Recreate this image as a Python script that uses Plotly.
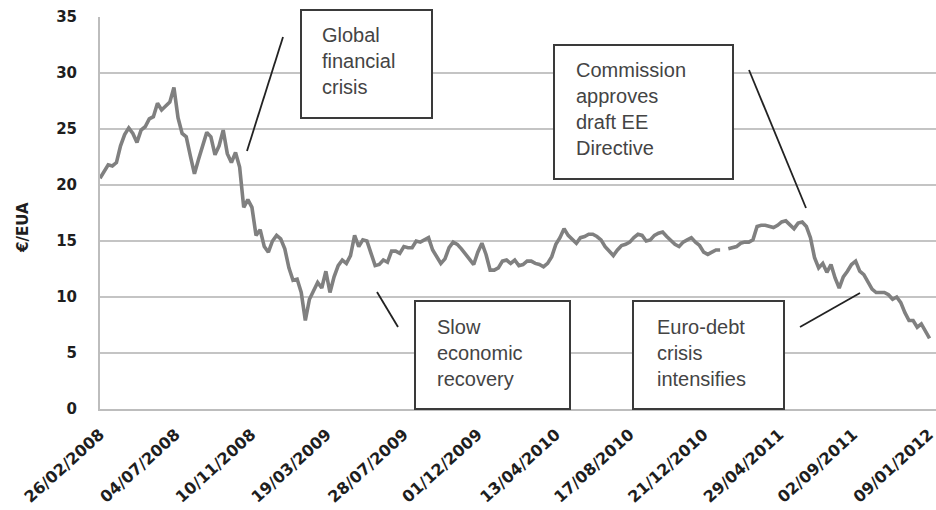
import pandas as pd
import plotly.graph_objects as go

# ---- data (weekly readings of the EUA price, €/EUA) ----
start_date = "2008-02-26"
price = [
    20.6, 21.2, 21.8, 21.7, 22.0, 23.5, 24.5, 25.1, 24.6, 23.8,
    24.9, 25.2, 25.9, 26.1, 27.3, 26.7, 27.1, 27.4, 28.7, 26.0,
    24.6, 24.3, 22.6, 21.0, 22.3, 23.5, 24.7, 24.3, 22.7, 23.5,
    24.9, 22.8, 22.0, 22.9, 21.6, 18.0, 18.7, 18.0, 15.5, 16.0,
    14.5, 14.0, 15.0, 15.5, 15.2, 14.3, 12.6, 11.5, 11.6, 10.4,
    7.9, 9.8, 10.5, 11.3, 10.8, 12.3, 10.4, 11.8, 12.8, 13.3,
    13.0, 13.7, 15.5, 14.5, 15.1, 15.0, 13.9, 12.8, 12.9, 13.3,
    13.1, 14.1, 14.1, 13.9, 14.5, 14.4, 14.4, 15.0, 14.9, 15.1,
    15.3, 14.2, 13.6, 13.0, 13.4, 14.4, 14.9, 14.7, 14.3, 13.8,
    13.3, 12.9, 14.0, 14.8, 13.8, 12.4, 12.4, 12.6, 13.2, 13.3,
    13.0, 13.3, 12.8, 12.9, 13.2, 13.2, 13.0, 12.9, 12.7, 13.0,
    13.6, 14.7, 15.3, 16.1, 15.5, 15.2, 14.8, 15.3, 15.4, 15.6,
    15.6, 15.4, 15.1, 14.5, 14.1, 13.7, 14.2, 14.6, 14.7, 14.9,
    15.3, 15.6, 15.5, 15.0, 15.1, 15.5, 15.7, 15.8, 15.4, 15.0,
    14.7, 14.5, 14.9, 15.1, 15.3, 14.9, 14.6, 14.0, 13.8, 14.0,
    14.2, 14.2, None, 14.3, 14.4, 14.5, 14.8, 14.9, 14.9, 15.1,
    16.3, 16.4, 16.4, 16.3, 16.2, 16.4, 16.7, 16.8, 16.4, 16.1,
    16.6, 16.7, 16.3, 15.3, 13.5, 12.6, 13.0, 12.2, 12.9, 11.7,
    10.8, 11.8, 12.3, 12.9, 13.2, 12.3, 12.0, 11.4, 10.7, 10.4,
    10.4, 10.4, 10.2, 9.8, 10.0, 9.5, 8.6, 7.9, 7.9, 7.3,
    7.6, 6.9, 6.3,
]
dates = pd.date_range(start_date, periods=len(price), freq="7D")

tick_dates = ["2008-02-26", "2008-07-04", "2008-11-10", "2009-03-19",
              "2009-07-28", "2009-12-01", "2010-04-13", "2010-08-17",
              "2010-12-21", "2011-04-29", "2011-09-02", "2012-01-09"]
tick_labels = ["26/02/2008", "04/07/2008", "10/11/2008", "19/03/2009",
               "28/07/2009", "01/12/2009", "13/04/2010", "17/08/2010",
               "21/12/2010", "29/04/2011", "02/09/2011", "09/01/2012"]
y_ticks = [0, 5, 10, 15, 20, 25, 30, 35]

events = [
    "Global<br>financial<br>crisis",
    "Commission<br>approves<br>draft EE<br>Directive",
    "Slow<br>economic<br>recovery",
    "Euro-debt<br>crisis<br>intensifies",
]

# ---- layout geometry helpers (pixel -> paper) ----
W, H = 936, 510
L, R, T, B = 100, 0, 17, 101
PW, PH = W - L - R, H - T - B


def px(xp):
    return (xp - L) / PW


def py(yp):
    return (H - B - yp) / PH


fig = go.Figure()
fig.add_trace(go.Scatter(
    x=dates, y=price, mode="lines",
    line=dict(color="#808080", width=3.6),
    connectgaps=False, showlegend=False, hoverinfo="skip",
))

fig.update_layout(
    width=W, height=H,
    margin=dict(l=L, r=R, t=T, b=B, pad=0),
    paper_bgcolor="white", plot_bgcolor="white",
    xaxis=dict(
        type="date", range=[start_date, "2012-01-21"],
        tickmode="array", tickvals=tick_dates, ticktext=tick_labels,
        tickangle=-42, tickfont=dict(family="DejaVu Sans", size=16, color="#1e1e1e", weight="bold"),
        showgrid=False, showline=True, linecolor="#bdbdbd", linewidth=2,
        ticks="", ticklabelstandoff=8, ticklabeloverflow="allow",
        automargin=False, zeroline=False,
    ),
    yaxis=dict(
        range=[0, 35], tickmode="array", tickvals=y_ticks,
        tickfont=dict(family="DejaVu Sans", size=15, color="#1e1e1e", weight="bold"),
        showgrid=True, gridcolor="#c4c4c4", gridwidth=1.6,
        showline=True, linecolor="#bdbdbd", linewidth=2,
        ticks="", ticklabelstandoff=18, ticklabeloverflow="allow",
        automargin=False, zeroline=False,
    ),
)

# y-axis title
fig.add_annotation(
    text="€/EUA", xref="paper", yref="paper", x=px(23), y=py(228),
    textangle=-90, showarrow=False, xanchor="center", yanchor="middle",
    font=dict(family="DejaVu Sans", size=15, color="#1e1e1e", weight="bold"),
)

# event boxes: (left, top, right, bottom) in pixels, text position
boxes = [
    ((301, 10, 432, 118), (320, 22)),
    ((554, 45, 733, 179), (574, 57)),
    ((415, 301, 570, 409), (435, 314)),
    ((633, 301, 784, 409), (655, 314)),
]
for (x0, y0, x1, y1), _ in boxes:
    fig.add_shape(type="rect", xref="paper", yref="paper",
                  x0=px(x0), x1=px(x1), y0=py(y1), y1=py(y0),
                  fillcolor="white", line=dict(color="#3a3a3a", width=2),
                  layer="above")

for ((_, _, _, _), (tx, ty)), label in zip(boxes, events):
    fig.add_annotation(
        text=label, xref="paper", yref="paper", x=px(tx), y=py(ty),
        xanchor="left", yanchor="top", align="left", showarrow=False,
        font=dict(family="Liberation Sans", size=20, color="#444444"),
    )

# leader lines
leaders = [((283, 37), (247, 151)),
           ((749, 70), (806, 208)),
           ((377, 292), (398, 327)),
           ((800, 327), (860, 293))]
for (ax, ay), (bx, by) in leaders:
    fig.add_shape(type="line", xref="paper", yref="paper",
                  x0=px(ax), y0=py(ay), x1=px(bx), y1=py(by),
                  line=dict(color="#222222", width=1.8), layer="above")

fig.write_html(
    "out.html",
    config={"displayModeBar": False},
    post_script="document.body.style.margin='0';document.body.style.overflow='hidden';",
)
